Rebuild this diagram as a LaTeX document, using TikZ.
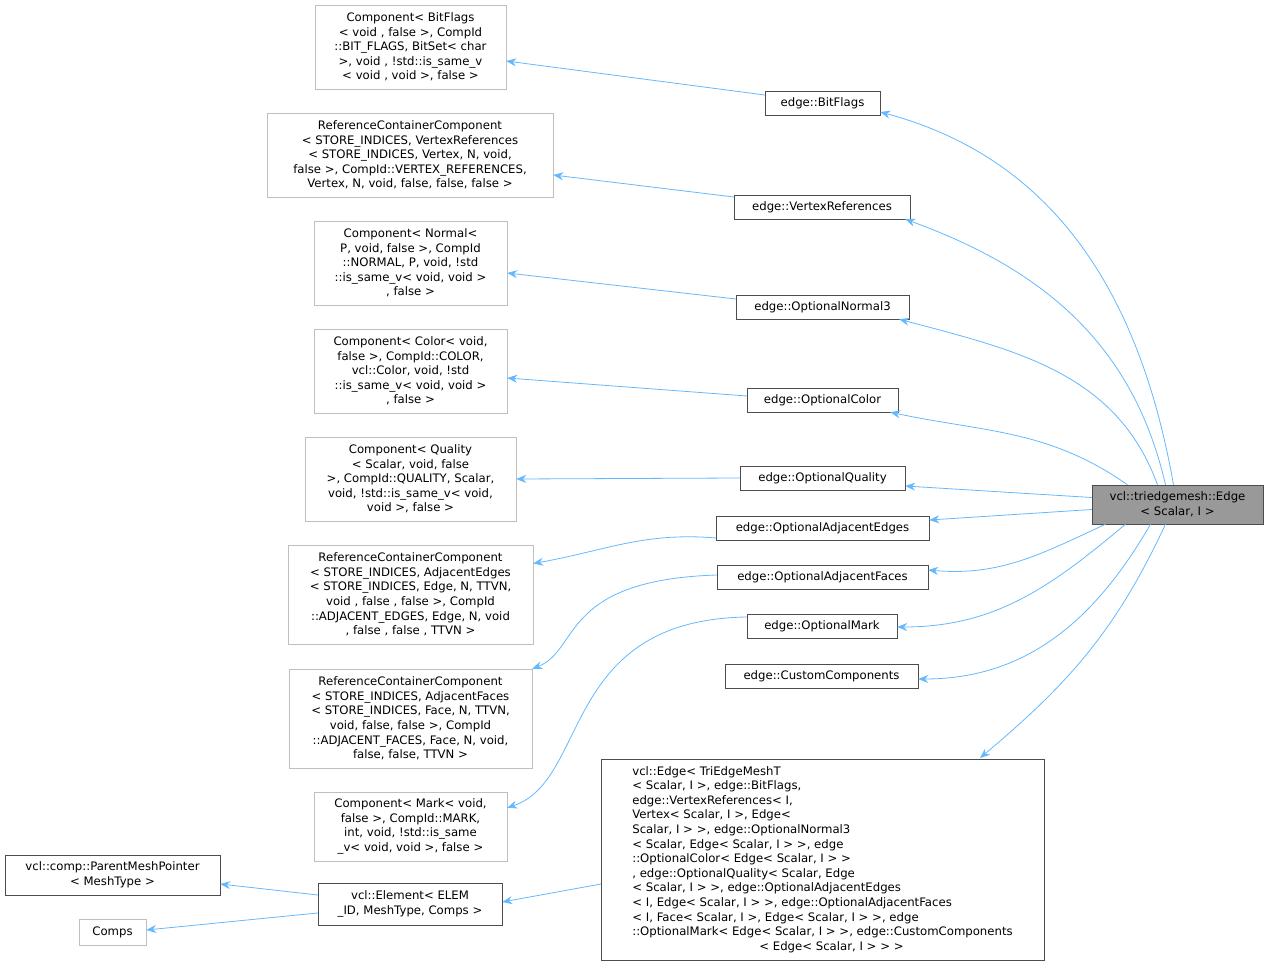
\documentclass[tikz,border=0pt]{standalone}
\usepackage{fontspec}
\setmainfont{DejaVu Sans}
\usetikzlibrary{arrows.meta}
\definecolor{edgeblue}{HTML}{63B8FF}
\definecolor{graybox}{HTML}{BFBFBF}
\begin{document}
\begin{tikzpicture}[x=1pt,y=-1pt,
  txt/.style={font=\fontsize{11.7}{14.6}\selectfont,align=center,inner sep=0pt},
  gbox/.style={draw=graybox,line width=0.8pt},
  bbox/.style={draw=black!70,line width=0.8pt},
  inh/.style={draw=edgeblue,line width=0.8pt,{Stealth[length=10pt,width=8pt]}-}]
\useasboundingbox (0,0) rectangle (1268,965);
\newcommand{\bx}[7]{% name, style, x1,y1,x2,y2, text
  \draw[#2] (#3,#4) rectangle (#5,#6);
  \node[txt] (#1) at ({(#3+#5)/2},{(#4+#6)/2}) [minimum width={#5-#3},minimum height={#6-#4}] {#7};}
\bx{A}{gbox}{315}{5}{506}{89}{Component< BitFlags\\< void , false  >, CompId\\::BIT\_FLAGS, BitSet< char\\ >, void , !std::is\_same\_v\\< void , void >, false  >}
\bx{B}{gbox}{267}{113}{553}{197}{ReferenceContainerComponent\\< STORE\_INDICES, VertexReferences\\< STORE\_INDICES, Vertex, N, void,\\ false >, CompId::VERTEX\_REFERENCES,\\ Vertex, N, void, false, false, false >}
\bx{C}{gbox}{314}{221}{507}{305}{Component< Normal<\\ P, void, false >, CompId\\::NORMAL, P, void, !std\\::is\_same\_v< void, void >\\, false >}
\bx{D}{gbox}{314}{329}{507}{413}{Component< Color< void,\\ false >, CompId::COLOR,\\ vcl::Color, void, !std\\::is\_same\_v< void, void >\\, false >}
\bx{E}{gbox}{305}{437}{516}{521}{Component< Quality\\< Scalar, void, false\\ >, CompId::QUALITY, Scalar,\\ void, !std::is\_same\_v< void,\\ void >, false >}
\bx{F}{gbox}{288}{545}{533}{644}{ReferenceContainerComponent\\< STORE\_INDICES, AdjacentEdges\\< STORE\_INDICES, Edge, N, TTVN,\\ void , false , false  >, CompId\\::ADJACENT\_EDGES, Edge, N, void\\, false , false , TTVN >}
\bx{G}{gbox}{289}{669}{532}{768}{ReferenceContainerComponent\\< STORE\_INDICES, AdjacentFaces\\< STORE\_INDICES, Face, N, TTVN,\\ void, false, false >, CompId\\::ADJACENT\_FACES, Face, N, void,\\ false, false, TTVN >}
\bx{H}{gbox}{314}{792}{507}{861}{Component< Mark< void,\\ false >, CompId::MARK,\\ int, void, !std::is\_same\\\_v< void, void >, false >}
\bx{I}{bbox}{5}{855}{220}{895}{vcl::comp::ParentMeshPointer\\< MeshType >}
\bx{J}{gbox}{79}{919}{146}{945}{Comps}
\bx{K}{bbox}{318}{883}{502}{925}{vcl::Element< ELEM\\\_ID, MeshType, Comps >}
\draw[bbox] (601,759) rectangle (1044,960);
\node[txt,align=left] (L) at (822.5,859.5) {vcl::Edge< TriEdgeMeshT\\< Scalar, I >, edge::BitFlags,\\ edge::VertexReferences< I,\\ Vertex< Scalar, I >, Edge<\\ Scalar, I > >, edge::OptionalNormal3\\< Scalar, Edge< Scalar, I > >, edge\\::OptionalColor< Edge< Scalar, I > >\\, edge::OptionalQuality< Scalar, Edge\\< Scalar, I > >, edge::OptionalAdjacentEdges\\< I, Edge< Scalar, I > >, edge::OptionalAdjacentFaces\\< I, Face< Scalar, I >, Edge< Scalar, I > >, edge\\::OptionalMark< Edge< Scalar, I > >, edge::CustomComponents\\\hspace*{127pt}< Edge< Scalar, I > > >};
\bx{m1}{bbox}{765}{91}{880}{115}{edge::BitFlags}
\bx{m2}{bbox}{734}{195}{910}{219}{edge::VertexReferences}
\bx{m3}{bbox}{736}{295}{909}{319}{edge::OptionalNormal3}
\bx{m4}{bbox}{747}{388}{898}{412}{edge::OptionalColor}
\bx{m5}{bbox}{740}{466}{905}{490}{edge::OptionalQuality}
\bx{m6}{bbox}{716}{516}{929}{540}{edge::OptionalAdjacentEdges}
\bx{m7}{bbox}{717}{565}{928}{589}{edge::OptionalAdjacentFaces}
\bx{m8}{bbox}{747}{614}{897}{638}{edge::OptionalMark}
\bx{m9}{bbox}{725}{664}{918}{688}{edge::CustomComponents}
\draw[draw=black!70,fill=black!40,line width=0.8pt] (1092,485) rectangle (1263,524);
\node[txt] (R) at (1177.5,504.5) [minimum width=171,minimum height=39] {vcl::triedgemesh::Edge\\< Scalar, I >};
% root -> middle
\draw[inh] ([yshift=-9]m1.east) to[out=-15,in=100] ([xshift=-4]R.north);
\draw[inh] ([xshift=-5]m2.south east) to[out=-20,in=103] ([xshift=-12]R.north);
\draw[inh] ([xshift=-10]m3.south east) to[out=-15,in=110] ([xshift=-20]R.north);
\draw[inh] ([xshift=-8]m4.south east) to[out=-12,in=145] ([xshift=-50]R.north);
\draw[inh] ([yshift=-8]m5.east) -- ([yshift=7]R.west);
\draw[inh] ([yshift=8]m6.east) -- ([yshift=-5]R.west);
\draw[inh] ([yshift=7]m7.east) to[out=-5,in=-155] ([xshift=-72]R.south);
\draw[inh] ([yshift=-1]m8.east) to[out=0,in=-140] ([xshift=-52]R.south);
\draw[inh] ([yshift=-3]m9.east) to[out=0,in=-120] ([xshift=-27]R.south);
\draw[inh] (980,758) to[out=40,in=-115] ([xshift=-12]R.south);
% middle -> left
\draw[inh] ([yshift=-14]A.east) -- ([yshift=8]m1.west);
\draw[inh] ([yshift=-20]B.east) -- ([yshift=10]m2.west);
\draw[inh] ([yshift=-10]C.east) -- ([yshift=8]m3.west);
\draw[inh] ([yshift=-7]D.east) -- ([yshift=4]m4.west);
\draw[inh] (E.east) -- (m5.west);
\draw[inh] ([yshift=31]F.east) to[out=10,in=175] ([yshift=-10]m6.west);
\draw[inh] (G.north east) .. controls (580,650) and (560,580) .. ([yshift=2]m7.west);
\draw[inh] ([yshift=-16]H.north east) .. controls (590,780) and (560,620) .. ([yshift=9]m8.west);
% bottom
\draw[inh] ([yshift=2]K.east) -- (601,884);
\draw[inh] ([yshift=-9]I.east) -- ([yshift=9]K.west);
\draw[inh] ([yshift=2]J.east) -- ([yshift=-9]K.west);
\end{tikzpicture}
\end{document}
